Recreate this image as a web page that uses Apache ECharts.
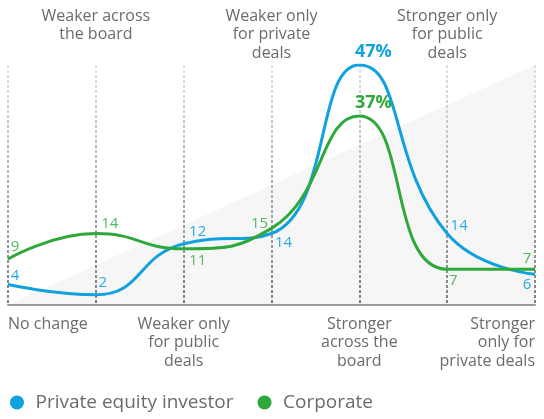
<!DOCTYPE html>
<html>
<head>
<meta charset="utf-8">
<script src="https://cdn.jsdelivr.net/npm/echarts@6/dist/echarts.min.js"></script>
<style>
  html, body { margin: 0; padding: 0; background: #fff; }
  #chart { width: 544px; height: 419px; }
</style>
</head>
<body>
<div id="chart"></div>
<script>
// categories (line breaks as printed)
const categories = [
  "No change",
  "Weaker across\nthe board",
  "Weaker only\nfor public\ndeals",
  "Weaker only\nfor private\ndeals",
  "Stronger\nacross the\nboard",
  "Stronger only\nfor public\ndeals",
  "Stronger\nonly for\nprivate deals",
];
const privateEquity = [4, 2, 12, 14, 47, 14, 6];
const corporate = [9, 14, 11, 15, 37, 7, 7];
const peakIndex = 4;
// grey wedge behind the lines: [category index, value]
const wedge = [[0, 0], [6, 47]];

const PE_COLOR = "#10a1e0";
const CORP_COLOR = "#2ea83a";
const PE_LABEL = "#2aace3";
const CORP_LABEL = "#55b85d";

// label offsets from each point (styling only)
const peOffsets = [[7, -9], [7, -12], [14, -12], [12, 9], [14, -13], [12, -8], [-8, 10]];
const corpOffsets = [[7, -12], [14, -10], [14, 12], [-12, -5], [14, -13], [6, 11], [-8, -11]];

const buildData = (values, offsets, color) =>
  values.map((v, i) => ({
    value: v,
    label: {
      show: true,
      position: "inside",
      offset: offsets[i],
      formatter: i === peakIndex ? `${v}%` : `${v}`,
      color: color,
      fontSize: i === peakIndex ? 18 : 15,
      fontWeight: i === peakIndex ? "bold" : "normal",
    },
  }));

const chart = echarts.init(document.getElementById("chart"));

const labelFont = { fontFamily: "Open Sans", fontSize: 16, color: "#6b6b6b", lineHeight: 18.5 };

const option = {
  animation: false,
  textStyle: { fontFamily: "Open Sans" },
  legend: {
    data: ["Private equity investor", "Corporate"],
    left: 5,
    bottom: 2,
    icon: "circle",
    itemWidth: 27,
    itemHeight: 14,
    itemGap: 24,
    textStyle: { fontSize: 19, color: "#6b6b6b", fontFamily: "Open Sans" },
  },
  grid: { left: 8, right: 9, top: 65, bottom: 114 },
  xAxis: [
    {
      type: "category",
      data: categories,
      boundaryGap: false,
      axisLine: { show: true, lineStyle: { color: "#9a9a9a", width: 2 } },
      axisTick: { show: false },
      splitLine: {
        show: true,
        lineStyle: {
          width: 2,
          type: [3, 2],
          color: new echarts.graphic.LinearGradient(0, 0, 0, 1, [
            { offset: 0, color: "#e2e2e2" },
            { offset: 1, color: "#7e7e7e" },
          ]),
        },
      },
      axisLabel: {
        interval: 0,
        margin: 10,
        alignMinLabel: "left",
        alignMaxLabel: "right",
        ...labelFont,
        formatter: (v, i) => (i % 2 === 0 ? v : ""),
      },
    },
    {
      type: "category",
      data: categories,
      boundaryGap: false,
      position: "top",
      axisLine: { show: false },
      axisTick: { show: false },
      splitLine: { show: false },
      axisLabel: {
        interval: 0,
        margin: 58,
        verticalAlign: "top",
        ...labelFont,
        formatter: (v, i) => (i % 2 === 1 ? v : ""),
      },
    },
  ],
  yAxis: {
    type: "value",
    min: 0,
    max: 47,
    show: false,
    splitLine: { show: false },
  },
  series: [
    {
      name: "wedge",
      type: "line",
      data: wedge,
      z: -1,
      silent: true,
      symbol: "none",
      lineStyle: { width: 0 },
      areaStyle: { color: "#f6f6f6", opacity: 1 },
    },
    {
      name: "Private equity investor",
      type: "line",
      smooth: 0.5,
      data: buildData(privateEquity, peOffsets, PE_LABEL),
      symbol: "circle",
      symbolSize: 0,
      itemStyle: { color: PE_COLOR },
      lineStyle: { color: PE_COLOR, width: 3 },
      z: 3,
    },
    {
      name: "Corporate",
      type: "line",
      smooth: 0.5,
      data: buildData(corporate, corpOffsets, CORP_LABEL),
      symbol: "circle",
      symbolSize: 0,
      itemStyle: { color: CORP_COLOR },
      lineStyle: { color: CORP_COLOR, width: 3 },
      z: 4,
    },
  ],
};

// peak labels use line colour
option.series[1].data[peakIndex].label.color = PE_COLOR;
option.series[2].data[peakIndex].label.color = CORP_COLOR;

chart.setOption(option);
</script>
</body>
</html>
